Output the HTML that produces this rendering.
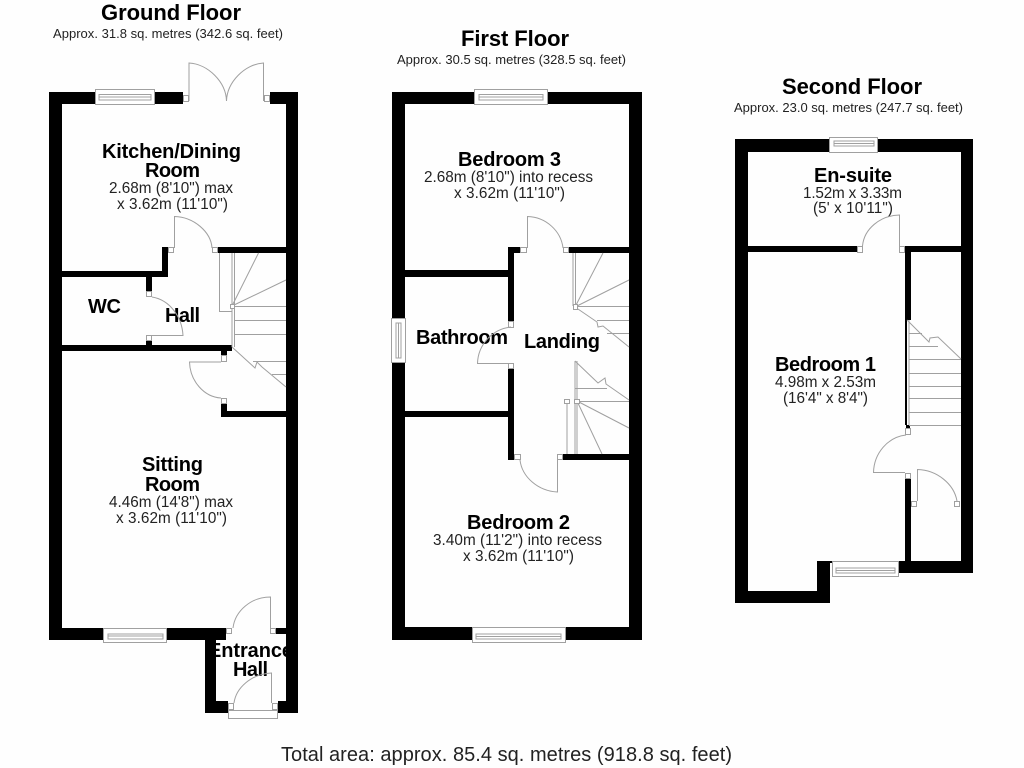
<!DOCTYPE html>
<html><head><meta charset="utf-8"><style>
html,body{margin:0;padding:0;background:#fff;width:1024px;height:768px;overflow:hidden}
svg{display:block;filter:blur(.3px)}
text{font-family:"Liberation Sans",sans-serif;text-anchor:start;fill:#111}
.t{font-weight:bold;font-size:22px;fill:#000}
.r{font-weight:bold;font-size:20px;fill:#000}
.d{font-size:15.3px;fill:#222}
.a{font-size:13px;fill:#222}
.g{fill:none;stroke:#a0a0a0;stroke-width:1}
.j{fill:#fff;stroke:#a0a0a0;stroke-width:1}
</style></head><body>
<svg width="1024" height="768" viewBox="0 0 1024 768" xmlns="http://www.w3.org/2000/svg">
<rect width="1024" height="768" fill="#fefefe"/>

<!-- Text -->
<text class="t" x="101" y="20" textLength="140">Ground Floor</text>
<text class="a" x="53" y="38" textLength="230">Approx. 31.8 sq. metres (342.6 sq. feet)</text>
<text class="t" x="461" y="46" textLength="108">First Floor</text>
<text class="a" x="397" y="64" textLength="229">Approx. 30.5 sq. metres (328.5 sq. feet)</text>
<text class="t" x="782" y="94" textLength="140">Second Floor</text>
<text class="a" x="734" y="112" textLength="229">Approx. 23.0 sq. metres (247.7 sq. feet)</text>
<text x="281" y="761" style="font-size:20px;fill:#222" textLength="451">Total area: approx. 85.4 sq. metres (918.8 sq. feet)</text>

<text class="r" x="102" y="158" textLength="139">Kitchen/Dining</text>
<text class="r" x="145" y="177" textLength="55">Room</text>
<text class="d" x="109" y="193" textLength="124">2.68m (8'10") max</text>
<text class="d" x="117" y="209" textLength="111">x 3.62m (11'10")</text>
<text class="r" x="88" y="313" textLength="33">WC</text>
<text class="r" x="165" y="322" textLength="35">Hall</text>
<text class="r" x="142" y="471" textLength="61">Sitting</text>
<text class="r" x="145" y="491" textLength="55">Room</text>
<text class="d" x="109" y="507" textLength="124">4.46m (14'8") max</text>
<text class="d" x="116" y="523" textLength="111">x 3.62m (11'10")</text>
<text class="r" x="208" y="657" textLength="85">Entrance</text>
<text class="r" x="233" y="676" textLength="35">Hall</text>

<text class="r" x="458" y="166" textLength="103">Bedroom 3</text>
<text class="d" x="424" y="182" textLength="169">2.68m (8'10") into recess</text>
<text class="d" x="454" y="198" textLength="111">x 3.62m (11'10")</text>
<text class="r" x="416" y="344" textLength="92">Bathroom</text>
<text class="r" x="524" y="348" textLength="76">Landing</text>
<text class="r" x="467" y="529" textLength="103">Bedroom 2</text>
<text class="d" x="433" y="545" textLength="169">3.40m (11'2") into recess</text>
<text class="d" x="463" y="561" textLength="111">x 3.62m (11'10")</text>

<text class="r" x="814" y="182" textLength="78">En-suite</text>
<text class="d" x="803" y="198" textLength="99">1.52m x 3.33m</text>
<text class="d" x="813" y="213" textLength="80">(5' x 10'11")</text>
<text class="r" x="775" y="371" textLength="101">Bedroom 1</text>
<text class="d" x="775" y="387" textLength="101">4.98m x 2.53m</text>
<text class="d" x="783" y="403" textLength="85">(16'4" x 8'4")</text>

<!-- Ground walls -->
<g fill="#000">
<rect x="49" y="92" width="13" height="548"/>
<rect x="49" y="92" width="134" height="12"/>
<rect x="270" y="92" width="28" height="12"/>
<rect x="286" y="92" width="12" height="621"/>
<rect x="49" y="628" width="177" height="12"/>
<rect x="276" y="628" width="10" height="6"/>
<rect x="205" y="628" width="11" height="85"/>
<rect x="205" y="701" width="23" height="12"/>
<rect x="278" y="701" width="20" height="12"/>
<rect x="62" y="271" width="106" height="6"/>
<rect x="162" y="247" width="6" height="30"/>
<rect x="218" y="247" width="68" height="6"/>
<rect x="146" y="277" width="6" height="14"/>
<rect x="146" y="341" width="6" height="5"/>
<rect x="62" y="345" width="170" height="6"/>
<rect x="221" y="351" width="6" height="4"/>
<rect x="221" y="404" width="6" height="13"/>
<rect x="221" y="411" width="65" height="6"/>
</g>
<!-- Ground windows -->
<rect class="j" x="95.500" y="89.500" width="59" height="15"/>
<path class="g" d="M99 94.500V100H151V94.500ZM99 97H151"/>
<rect class="j" x="103.500" y="628.500" width="63" height="14"/>
<path class="g" d="M108 634V639H163V634ZM108 636H163"/>
<rect class="j" x="228.500" y="710.500" width="49" height="8"/>
<!-- Ground doors -->
<g>
<rect class="j" x="183.500" y="95.500" width="5" height="6"/>
<rect class="j" x="264.500" y="95.500" width="5" height="6"/>
<path class="g" d="M189 101V63C208 64 226 82 226.500 101C227 82 245 64 263.500 63V101"/>
<rect class="j" x="168.500" y="247.500" width="5" height="5"/>
<rect class="j" x="212.500" y="247.500" width="5" height="5"/>
<path class="g" d="M174.500 248V216.500C194 217 211 232 212 248"/>
<rect class="j" x="146.500" y="291.500" width="5" height="5"/>
<rect class="j" x="146.500" y="335.500" width="5" height="5"/>
<path class="g" d="M152 297C170 300 182 317 183 335.500H152"/>
<rect class="j" x="221.500" y="355.500" width="5" height="6"/>
<rect class="j" x="221.500" y="398.500" width="5" height="5"/>
<path class="g" d="M221 362H189.500C190 381 204 397 221 398"/>
<rect class="j" x="226.500" y="628.500" width="5" height="5"/>
<rect class="j" x="270.500" y="628.500" width="5" height="5"/>
<path class="g" d="M233 628C235 611 251 597 270.500 597V628"/>
<rect class="j" x="228.500" y="703.500" width="5" height="6"/>
<rect class="j" x="272.500" y="703.500" width="5" height="6"/>
<path class="g" d="M234 703C236 688 251 674 271.500 673V703"/>
<!-- Ground stairs -->
<path class="g" d="M219.500 253V311.500H232M232 253V347M234.500 253V347M232 306L258.500 253M232 306L286 280M234 306.500H286M234 320.500H286M234 334.500H286M253 361.500H286M272 374.500H286M232 347L255 368L257 362L262 367L286 387"/>
<rect class="j" x="230.500" y="304.500" width="4" height="4"/>
</g>

<!-- First walls -->
<g fill="#000">
<rect x="392" y="92" width="13" height="548"/>
<rect x="392" y="92" width="250" height="12"/>
<rect x="629" y="92" width="13" height="548"/>
<rect x="392" y="627" width="250" height="13"/>
<rect x="508" y="247" width="12" height="6"/>
<rect x="508" y="247" width="6" height="74"/>
<rect x="569" y="247" width="60" height="6"/>
<rect x="405" y="270" width="103" height="7"/>
<rect x="508" y="369" width="6" height="91"/>
<rect x="405" y="411" width="103" height="6"/>
<rect x="563" y="454" width="66" height="6"/>
</g>
<rect class="j" x="474.500" y="89.500" width="73" height="15"/>
<path class="g" d="M479 94.500V100H543V94.500ZM479 97H543"/>
<rect class="j" x="391.500" y="318.500" width="14" height="44"/>
<path class="g" d="M396 323V358H401V323ZM398.500 323V358"/>
<rect class="j" x="472.500" y="627.500" width="93" height="15"/>
<path class="g" d="M476 634V639H561V634ZM476 636.500H561"/>
<rect class="j" x="520.500" y="247.500" width="6" height="5"/>
<rect class="j" x="563.500" y="247.500" width="5" height="5"/>
<path class="g" d="M527.500 248V216.500C546 217 561 231 563 248"/>
<rect class="j" x="508.500" y="321.500" width="5" height="6"/>
<rect class="j" x="508.500" y="363.500" width="5" height="5"/>
<path class="g" d="M511 327C492 329 478 345 477.500 363.500H508"/>
<rect class="j" x="514.500" y="454.500" width="6" height="5"/>
<rect class="j" x="557.500" y="454.500" width="5" height="5"/>
<path class="g" d="M520 460C522 477 538 491 557.500 492V460"/>
<path class="g" d="M573 253V306M575.500 253V306M575 307L603 253M575 307L629 280M575 306.500H629M597 320.500H629M607 333.500H629M575 307L597 322L598 327L603 326L629 347"/>
<rect class="j" x="573.500" y="304.500" width="4" height="5"/>
<path class="g" d="M575 361V454M577 361V454M575 361L598 383L605 378L606 384L629 400M575 388.500H607M577 401.500H629M577 401L629 428M577 401L602 454M567 403V454"/>
<rect class="j" x="564.500" y="399.500" width="5" height="4"/>
<rect class="j" x="574.500" y="399.500" width="5" height="4"/>

<!-- Second walls -->
<g fill="#000">
<rect x="735" y="139" width="13" height="464"/>
<rect x="735" y="139" width="238" height="13"/>
<rect x="961" y="139" width="12" height="434"/>
<rect x="735" y="591" width="95" height="12"/>
<rect x="817" y="561" width="13" height="42"/>
<rect x="817" y="561" width="15" height="2"/>
<rect x="899" y="561" width="74" height="12"/>
<rect x="748" y="246" width="109" height="6"/>
<rect x="905" y="246" width="56" height="6"/>
<rect x="905" y="246" width="6" height="74"/>
<rect x="905" y="320" width="2" height="105"/>
<rect x="906" y="425" width="4" height="3"/>
<rect x="905" y="478" width="6" height="84"/>
</g>
<rect class="j" x="829.500" y="137.500" width="48" height="15"/>
<path class="g" d="M834 141V146H874V141ZM834 143.500H874"/>
<rect class="j" x="832.500" y="561.500" width="66" height="15"/>
<path class="g" d="M836 568V573H895V568ZM836 570.500H895"/>
<rect class="j" x="857.500" y="246.500" width="5" height="6"/>
<rect class="j" x="899.500" y="246.500" width="5" height="6"/>
<path class="g" d="M862.500 246C864 229 880 215.500 899.500 215V246"/>
<rect class="j" x="905.500" y="428.500" width="5" height="6"/>
<rect class="j" x="905.500" y="473.500" width="5" height="5"/>
<path class="g" d="M906 435C888 437 874 453 873.500 472.500H905"/>
<rect class="j" x="911.500" y="501.500" width="5" height="5"/>
<rect class="j" x="954.500" y="501.500" width="5" height="5"/>
<path class="g" d="M917.500 501V469.500C937 470 954 484 957 501"/>
<path class="g" d="M909 320V425M907 320L929 342L930 338L938 337L961 359M909 333.500H922M909 346.500H938M909 359.500H961M909 373.500H961M909 386.500H961M909 398.500H961M909 412.500H961M909 425.500H961"/>
</svg>
</body></html>
